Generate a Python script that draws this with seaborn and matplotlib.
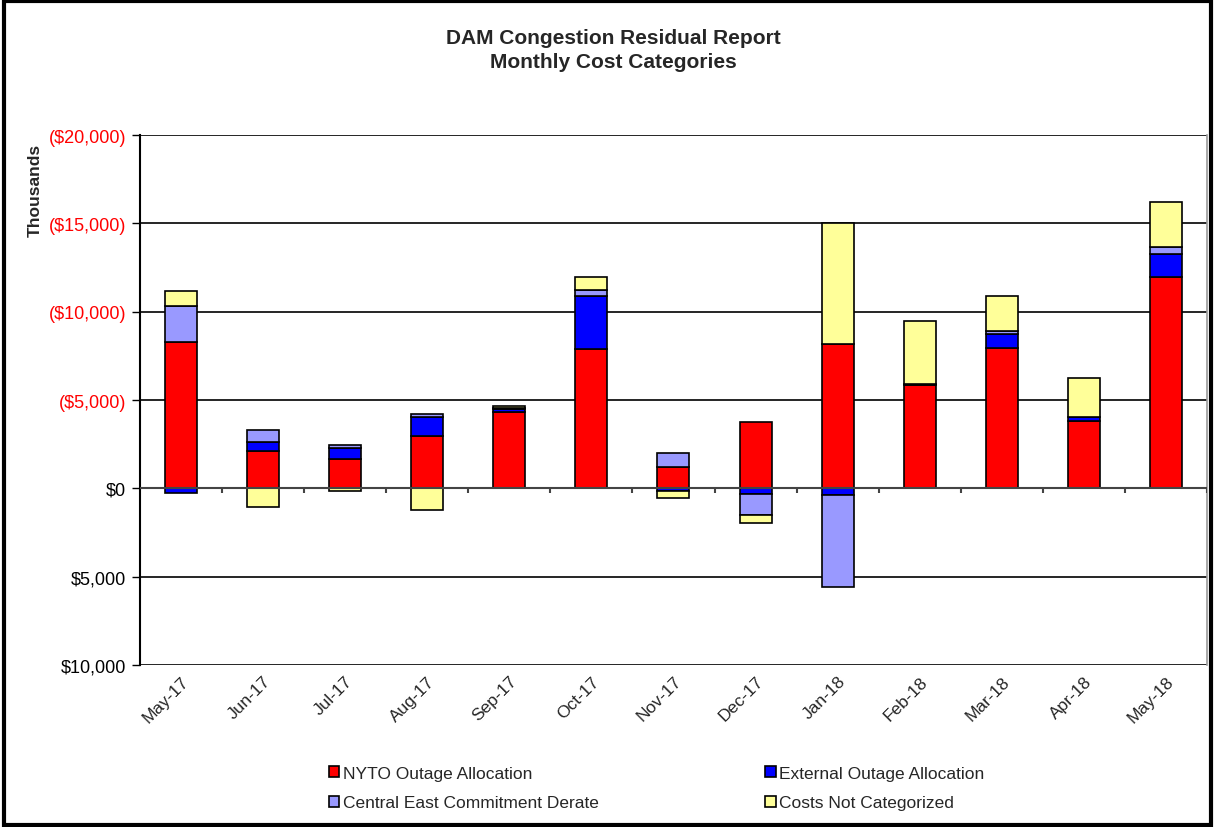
import matplotlib.pyplot as plt
import matplotlib.patches as mpatches
import numpy as np
import pandas as pd
import seaborn as sns

months = ["May-17", "Jun-17", "Jul-17", "Aug-17", "Sep-17", "Oct-17", "Nov-17",
          "Dec-17", "Jan-18", "Feb-18", "Mar-18", "Apr-18", "May-18"]

# values in thousands of dollars (positive = cost, drawn upward)
nyto = [8.27, 2.11, 1.66, 2.96, 4.32, 7.88, 1.21, 3.74, 8.18, 5.84, 7.93, 3.80, 11.99]
external = [-0.25, 0.49, 0.61, 1.08, 0.15, 2.98, -0.15, -0.32, -0.38, 0.08, 0.78, 0.24, 1.30]
central_east = [2.03, 0.69, 0.18, 0.15, 0.10, 0.36, 0.79, -1.21, -5.21, 0.0, 0.22, 0.0, 0.38]
uncategorized = [0.88, -1.08, -0.13, -1.21, 0.09, 0.72, -0.40, -0.45, 6.82, 3.53, 1.93, 2.23, 2.55]

series_names = ["NYTO Outage Allocation", "External Outage Allocation",
                "Central East Commitment Derate", "Costs Not Categorized"]
series_colors = ["#FF0000", "#0000FF", "#9999FF", "#FFFF99"]

sns.set_style("white")
plt.rcParams["font.family"] = ["Liberation Sans", "DejaVu Sans"]

fig = plt.figure(figsize=(12.15, 8.28), dpi=100)
ax = fig.add_axes([0.1152, 0.1957, 0.8782, 0.64])

pos_base = np.zeros(len(months))
neg_base = np.zeros(len(months))
for name, vals, col in zip(series_names, [nyto, external, central_east, uncategorized], series_colors):
    vals = np.array(vals) * 1000
    bottoms = np.where(vals >= 0, pos_base, neg_base)
    df = pd.DataFrame({"month": months, "value": vals})
    sns.barplot(data=df, x="month", y="value", order=months, color=col, width=0.39,
                bottom=bottoms, edgecolor="black", linewidth=1.2, saturation=1,
                errorbar=None, ax=ax, zorder=3)
    pos_base = pos_base + np.where(vals > 0, vals, 0)
    neg_base = neg_base + np.where(vals < 0, vals, 0)

ax.set_xlim(-0.5, len(months) - 0.5)
ax.set_ylim(-10000, 20000)
yt = np.arange(-10000, 20001, 5000)
ax.set_yticks(yt)
labels = []
for v in yt:
    if v > 0:
        labels.append("(${:,})".format(v))
    else:
        labels.append("${:,}".format(abs(v)))
ax.set_yticklabels(labels, fontsize=13)
for lab, v in zip(ax.get_yticklabels(), yt):
    lab.set_color("red" if v > 0 else "black")
ax.tick_params(axis="y", length=6, width=1, color="black", direction="out", left=True, pad=4)
ax.yaxis.grid(True, color="black", linewidth=1.2, zorder=1)
ax.set_axisbelow(True)

# category axis crosses at zero, labels kept low
ax.axhline(0, color="#444444", linewidth=1.5, zorder=4)
ax.vlines(np.arange(0.5, len(months), 1.0), -280, 0, color="#444444", linewidth=1.5, zorder=4)
ax.tick_params(axis="x", length=0, pad=6)
ax.set_xticks(range(len(months)))
ax.set_xticklabels(months, rotation=45, ha="right", rotation_mode="anchor", fontsize=12.5)
ax.set_xlabel("")
ax.set_ylabel("")

for s in ["top", "bottom"]:
    ax.spines[s].set_visible(False)
ax.spines["left"].set_color("black")
ax.spines["left"].set_linewidth(1.5)
ax.spines["right"].set_color("#999999")
ax.spines["right"].set_linewidth(1.2)

fig.text(0.505, 0.965, "DAM Congestion Residual Report\nMonthly Cost Categories",
         ha="center", va="top", fontsize=15, fontweight="bold", linespacing=1.35)
fig.text(0.029, 0.77, "Thousands", rotation=90, ha="center", va="center",
         fontsize=12.5, fontweight="bold")

# legend fills by column, so order handles to read row by row
order = [0, 2, 1, 3]
handles = [mpatches.Patch(facecolor=series_colors[i], edgecolor="black", linewidth=1.2) for i in order]
fig.legend(handles, [series_names[i] for i in order], loc="center", bbox_to_anchor=(0.5405, 0.047),
           ncol=2, frameon=False, fontsize=12.5, handlelength=0.6, handleheight=0.6,
           handletextpad=0.2, columnspacing=9.6, labelspacing=0.85)

fig.patches.append(mpatches.Rectangle((0.003, 0.003), 0.994, 0.994, transform=fig.transFigure,
                                      fill=False, edgecolor="black", linewidth=3))

fig.savefig("out.png", dpi=100, facecolor="white")
